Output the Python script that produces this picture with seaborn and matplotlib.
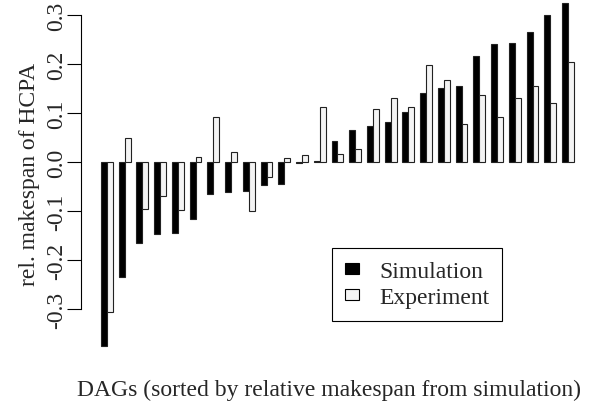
import numpy as np
import pandas as pd
import matplotlib
matplotlib.use("Agg")
import matplotlib.pyplot as plt
from matplotlib.patches import Patch
import seaborn as sns

# values, DAGs sorted by simulation result
dags = [f"DAG{i + 1}" for i in range(27)]
simulation = [-0.375, -0.234, -0.166, -0.146, -0.144, -0.116, -0.065, -0.062, -0.059,
              -0.046, -0.045, -0.003, 0.002, 0.042, 0.066, 0.073, 0.081, 0.103,
              0.140, 0.151, 0.156, 0.216, 0.240, 0.243, 0.265, 0.299, 0.324]
experiment = [-0.307, 0.050, -0.096, -0.069, -0.097, 0.010, 0.092, 0.021, -0.100,
              -0.031, 0.009, 0.015, 0.112, 0.017, 0.027, 0.108, 0.131, 0.113,
              0.197, 0.168, 0.078, 0.137, 0.091, 0.131, 0.156, 0.121, 0.204]
series = ["Simulation", "Experiment"]
yticks = [-0.3, -0.2, -0.1, 0.0, 0.1, 0.2, 0.3]

df = pd.DataFrame({
    "dag": dags * 2,
    "value": simulation + experiment,
    "series": [series[0]] * len(dags) + [series[1]] * len(dags),
})

sns.set_style("white")
plt.rcParams["font.family"] = ["Liberation Serif", "DejaVu Serif"]
FS = 17

fig = plt.figure(figsize=(6.08, 4.06), dpi=100)
ax = fig.add_axes([81 / 608, 0.0, (593 - 81) / 608, 1.0])

colors = {"Simulation": "black", "Experiment": "#f4f4f4"}
sns.barplot(data=df, x="dag", y="value", hue="series", order=dags,
            hue_order=series, palette=colors, width=2 / 3, gap=0, dodge=True,
            legend=False, ax=ax, errorbar=None, edgecolor="#222222", linewidth=0.8)

ax.set_xlim(-1.46, 27.41)
ax.set_ylim((163 - 406) / 490, 163 / 490)

for s in ["top", "right", "bottom"]:
    ax.spines[s].set_visible(False)
ax.spines["left"].set_bounds(-0.3, 0.3)
ax.spines["left"].set_linewidth(0.8)
ax.spines["left"].set_color("black")
ax.set_xticks([])
ax.set_yticks(yticks)
ax.set_yticklabels([f"{t:.1f}" for t in yticks], rotation=90, va="center", fontsize=FS)
ax.tick_params(axis="y", direction="out", length=10, width=0.8, color="black", pad=0, left=True)

ax.set_xlabel("")
ax.set_ylabel("rel. makespan of HCPA", fontsize=FS)
ax.yaxis.set_label_coords(-41 / 512, (406 - 174) / 406)
fig.text(329 / 608, 1 - 390 / 406, "DAGs (sorted by relative makespan from simulation)",
         ha="center", va="center", fontsize=FS)

handles = [Patch(facecolor=colors[s], edgecolor="black", linewidth=0.8) for s in series]
leg = fig.legend(handles, series, loc="upper left", bbox_to_anchor=(332 / 608, 1 - 249 / 406),
                 fancybox=False, edgecolor="black", framealpha=1, fontsize=FS,
                 borderpad=0.55, borderaxespad=0, handletextpad=0.85, labelspacing=0.22,
                 handlelength=0.6, handleheight=0.3)
leg.get_frame().set_linewidth(0.8)

fig.savefig("out.png", dpi=100)
